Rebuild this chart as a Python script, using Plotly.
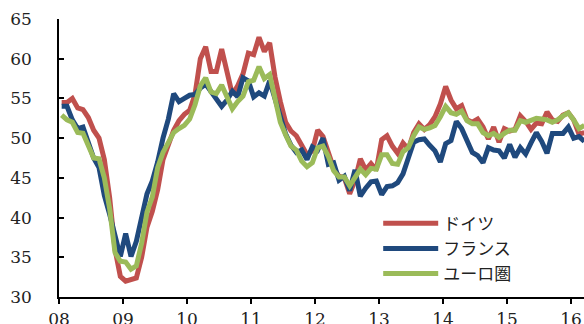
import plotly.graph_objects as go

# Monthly values, Jan 2008 - Mar 2016
germany = [
    54.5, 54.5, 55.0, 53.8, 53.6, 52.6, 51.0, 50.0, 47.3, 42.5, 36.0, 32.6,
    32.0, 32.2, 32.4, 35.0, 38.8, 40.8, 43.5, 47.3, 49.4, 51.0, 52.2, 53.0,
    53.5, 55.5, 60.0, 61.5, 58.4, 58.4, 61.2, 58.2, 55.5, 56.6, 58.1, 60.7,
    60.5, 62.7, 60.9, 62.0, 57.7, 54.6, 52.0, 50.9, 50.3, 49.1, 47.9, 48.4,
    51.0, 50.2, 48.4, 46.2, 45.2, 45.0, 43.0, 44.7, 47.4, 46.0, 46.8, 46.0,
    49.8, 50.3, 49.0, 48.1, 49.4, 48.6, 50.7, 51.8, 51.1, 51.7, 52.7, 54.3,
    56.5, 54.8, 53.7, 54.1, 52.3, 52.0, 52.4, 51.4, 49.9, 51.4, 49.5, 51.2,
    50.9, 51.1, 52.8, 52.1, 51.1, 51.9, 51.8, 53.3, 52.3, 52.1, 52.9, 53.2,
    52.3, 50.5, 50.7,
]
france = [
    54.0, 54.0, 52.3, 51.2, 51.4, 49.4, 47.5, 46.3, 42.8, 40.4, 37.5, 35.1,
    38.0, 35.1, 37.0, 40.2, 43.0, 44.6, 47.0, 50.0, 52.4, 55.6, 54.6, 55.0,
    55.4, 55.5, 56.3, 56.8, 55.8, 55.0, 54.0, 54.8, 55.9, 55.2, 57.6, 57.2,
    55.2, 55.7, 55.3, 57.2, 54.8, 52.5, 50.5, 49.1, 48.2, 48.5, 47.3, 48.9,
    48.5, 50.0, 46.7, 46.9, 44.7, 45.2, 43.4, 46.0, 42.7, 43.7, 44.5, 44.6,
    42.9, 43.9, 44.0, 44.4, 45.5, 47.5, 49.5, 49.8, 49.9, 49.1, 48.4, 47.0,
    49.3, 49.7, 52.1, 51.2, 49.6, 48.2, 47.8, 46.9, 48.8, 48.5, 48.4, 47.5,
    49.2, 47.6, 48.8, 48.0, 49.4, 50.7, 49.6, 48.1, 50.6, 50.6, 50.6, 51.4,
    50.0, 50.2, 49.6,
]
eurozone = [
    52.9, 52.3, 52.0, 50.7, 50.6, 49.2, 47.5, 47.4, 45.0, 41.1, 35.6, 34.5,
    34.4, 33.5, 33.9, 36.8, 40.7, 42.6, 46.3, 48.2, 49.3, 50.7, 51.2, 51.6,
    52.4, 54.2, 56.6, 57.6, 55.8, 55.6, 56.7, 55.1, 53.7, 54.6, 55.3, 57.1,
    57.3, 59.0, 57.5, 58.0, 54.6, 52.0, 50.4, 49.0, 48.5, 47.1, 46.4, 46.9,
    48.8, 49.0, 47.7, 45.9, 45.1, 45.1, 44.0, 45.1, 46.1, 45.4, 46.2, 46.1,
    47.9, 47.9, 46.8, 46.7, 48.3, 48.8, 50.3, 51.4, 51.1, 51.3, 51.6, 52.7,
    54.0, 53.2, 53.0, 53.4, 52.2, 51.8, 51.8, 50.7, 50.3, 50.6, 50.1, 50.6,
    51.0, 51.0, 52.2, 52.0, 52.2, 52.5, 52.4, 52.3, 52.0, 52.3, 52.8, 53.2,
    52.3, 51.2, 51.6,
]
series_names = ["ドイツ", "フランス", "ユーロ圏"]
colors = ["#C0504D", "#1F497D", "#9BBB59"]
year_ticks = list(range(2008, 2017))
tick_labels = ["08", "09", "10", "11", "12", "13", "14", "15", "16"]

x_vals = [2008 + (i + 0.5) / 12 for i in range(len(germany))]

fig = go.Figure()
for name, vals, col in zip(series_names, [germany, france, eurozone], colors):
    fig.add_trace(go.Scatter(x=x_vals, y=vals, mode="lines", name=name,
                             line=dict(color=col, width=5)))

tick_font = dict(family="DejaVu Serif", size=17, color="#222222")
fig.update_layout(
    width=584, height=324,
    margin=dict(l=59, r=0, t=19, b=27),
    paper_bgcolor="white", plot_bgcolor="white",
    font=dict(family="DejaVu Serif"),
    showlegend=True,
    legend=dict(x=0.608, y=0.328, xanchor="left", yanchor="top",
                bgcolor="rgba(0,0,0,0)", itemwidth=55,
                font=dict(family="Noto Sans CJK JP", size=17, color="#222222")),
    xaxis=dict(range=[2008, 2016.203], tickmode="array", tickvals=year_ticks,
               ticktext=tick_labels, ticks="outside", ticklen=5, tickwidth=1.5,
               tickcolor="black", showline=True, linecolor="black", linewidth=1.5,
               showgrid=False, zeroline=False, tickfont=tick_font,
               ticklabelstandoff=1, automargin=False),
    yaxis=dict(range=[30, 65], dtick=5, ticks="inside", ticklen=5, tickwidth=1.5,
               tickcolor="black", showline=True, linecolor="black", linewidth=1.5,
               showgrid=False, zeroline=False, tickfont=tick_font,
               ticklabelstandoff=22, automargin=False),
)
fig.write_html("out.html")
